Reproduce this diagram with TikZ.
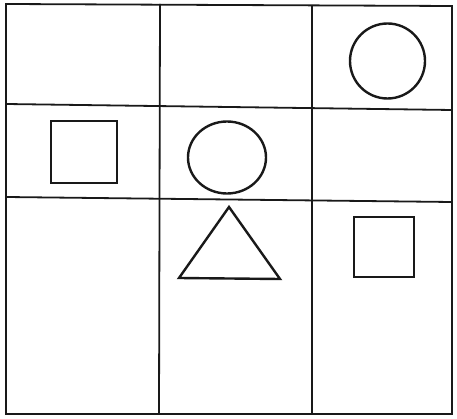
\documentclass[tikz,border=0pt]{standalone}
\begin{document}
\begin{tikzpicture}[x=1pt,y=-1pt,line width=1.5pt,
  gridline/.style={line width=1.8pt,draw=black!90},
  shapeline/.style={line width=2.4pt,draw=black!90}]
\useasboundingbox (0,0) rectangle (457,419);
\fill[white] (0,0) rectangle (457,419);
% outer border
\draw[gridline] (6,4) -- (452,6) -- (452,414) -- (6,414) -- cycle;
% vertical lines
\draw[gridline] (160,4) -- (159,414);
\draw[gridline] (312,5) -- (312,414);
% horizontal lines
\draw[gridline] (6,104) -- (452,110);
\draw[gridline] (6,197) -- (452,202);
% shapes
\draw[shapeline] (387.5,61) circle (37.5);
\draw[shapeline] (51,121) rectangle (117,183);
\draw[shapeline] (227,157.5) ellipse [x radius=39, y radius=36];
\draw[shapeline,line join=miter] (229,207) -- (280,279) -- (179,278) -- cycle;
\draw[shapeline] (354,217) rectangle (414,277);
\end{tikzpicture}
\end{document}
